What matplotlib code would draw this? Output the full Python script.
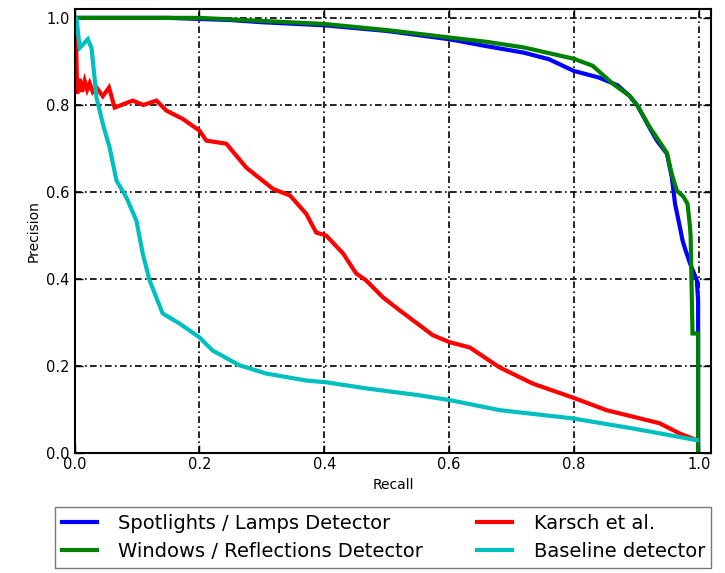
import numpy as np
import matplotlib
matplotlib.use("Agg")
import matplotlib.pyplot as plt

# precision / recall curves
spot_recall = [0.0, 0.15, 0.25, 0.30, 0.40, 0.50, 0.60, 0.66, 0.72, 0.76, 0.80, 0.84,
               0.87, 0.889, 0.902, 0.921, 0.933, 0.949, 0.957, 0.962, 0.970, 0.974,
               0.978, 0.986, 0.997, 0.999, 0.999, 0.999]
spot_precision = [1.0, 1.0, 0.995, 0.99, 0.983, 0.97, 0.951, 0.935, 0.92, 0.905, 0.878, 0.863,
                  0.845, 0.821, 0.798, 0.748, 0.718, 0.688, 0.633, 0.573, 0.518, 0.489,
                  0.47, 0.436, 0.397, 0.35, 0.278, 0.0]

win_recall = [0.0, 0.20, 0.30, 0.40, 0.50, 0.60, 0.66, 0.72, 0.80, 0.83, 0.862, 0.889,
              0.902, 0.921, 0.935, 0.949, 0.957, 0.965, 0.975, 0.982, 0.986, 0.987,
              0.990, 0.999, 0.999]
win_precision = [1.0, 1.0, 0.993, 0.986, 0.972, 0.955, 0.945, 0.932, 0.906, 0.89, 0.849, 0.821,
                 0.798, 0.75, 0.72, 0.69, 0.64, 0.603, 0.59, 0.573, 0.52, 0.50,
                 0.275, 0.275, 0.0]

karsch_recall = [0.002, 0.004, 0.008, 0.012, 0.016, 0.020, 0.024, 0.029, 0.035, 0.045, 0.055,
                 0.064, 0.075, 0.093, 0.11, 0.131, 0.147, 0.173, 0.2, 0.211, 0.243, 0.275,
                 0.318, 0.345, 0.371, 0.387, 0.403, 0.43, 0.451, 0.467, 0.494, 0.521,
                 0.574, 0.601, 0.633, 0.681, 0.734, 0.798, 0.852, 0.937, 0.97, 0.997]
karsch_precision = [0.963, 0.826, 0.86, 0.83, 0.855, 0.835, 0.85, 0.83, 0.84, 0.82, 0.84,
                    0.794, 0.80, 0.81, 0.80, 0.81, 0.787, 0.768, 0.741, 0.718, 0.711, 0.656,
                    0.607, 0.592, 0.55, 0.507, 0.50, 0.459, 0.413, 0.397, 0.358, 0.328,
                    0.271, 0.255, 0.243, 0.197, 0.16, 0.128, 0.099, 0.069, 0.045, 0.030]

base_recall = [0.0, 0.003, 0.008, 0.021, 0.027, 0.035, 0.045, 0.056, 0.067, 0.083, 0.099,
               0.109, 0.12, 0.141, 0.168, 0.2, 0.221, 0.264, 0.307, 0.371, 0.403,
               0.467, 0.553, 0.601, 0.681, 0.798, 0.894, 0.997]
base_precision = [1.0, 0.998, 0.931, 0.951, 0.931, 0.817, 0.757, 0.702, 0.626, 0.587, 0.534,
                  0.459, 0.397, 0.321, 0.298, 0.266, 0.236, 0.202, 0.183, 0.167, 0.163,
                  0.149, 0.133, 0.122, 0.099, 0.08, 0.057, 0.030]

labels = ["Spotlights / Lamps Detector", "Windows / Reflections Detector",
          "Karsch et al.", "Baseline detector"]
colors = ["#0000ff", "#008000", "#ff0000", "#00bfbf"]

fig = plt.figure(figsize=(7.25, 5.73), dpi=100)
ax = fig.add_axes([0.103, 0.209, 0.878, 0.775])

curves = [(spot_recall, spot_precision), (win_recall, win_precision),
          (karsch_recall, karsch_precision), (base_recall, base_precision)]
lines = []
for (r, p), c, lab in zip(curves, colors, labels):
    ln, = ax.plot(r, p, color=c, lw=3.0, label=lab, solid_joinstyle="miter")
    lines.append(ln)

ax.set_xlim(0, 1.02)
ax.set_ylim(0, 1.02)
ax.set_xticks(np.arange(0, 1.01, 0.2))
ax.set_yticks(np.arange(0, 1.01, 0.2))
ax.xaxis.set_major_formatter(matplotlib.ticker.FormatStrFormatter("%.1f"))
ax.yaxis.set_major_formatter(matplotlib.ticker.FormatStrFormatter("%.1f"))
ax.tick_params(direction="in", top=True, right=True, length=6, width=1, labelsize=10.5,
               colors="black")
ax.tick_params(axis="x", pad=3)
ax.grid(True, color="black", lw=1.2, linestyle=(0, (4, 2, 1, 2)))
for s in ax.spines.values():
    s.set_linewidth(1.5)
ax.set_xlabel("Recall", fontsize=10, labelpad=4)
ax.set_ylabel("Precision", fontsize=10, labelpad=4)

fig.legend(handles=lines, loc="upper left", bbox_to_anchor=(0.076, 0.115), ncol=2,
           fontsize=14, handlelength=1.8, handletextpad=1.1, columnspacing=2.8,
           frameon=True, fancybox=False, edgecolor="0.35", borderpad=0.33,
           labelspacing=0.5, borderaxespad=0.0)

fig.savefig("out.png", dpi=100)
